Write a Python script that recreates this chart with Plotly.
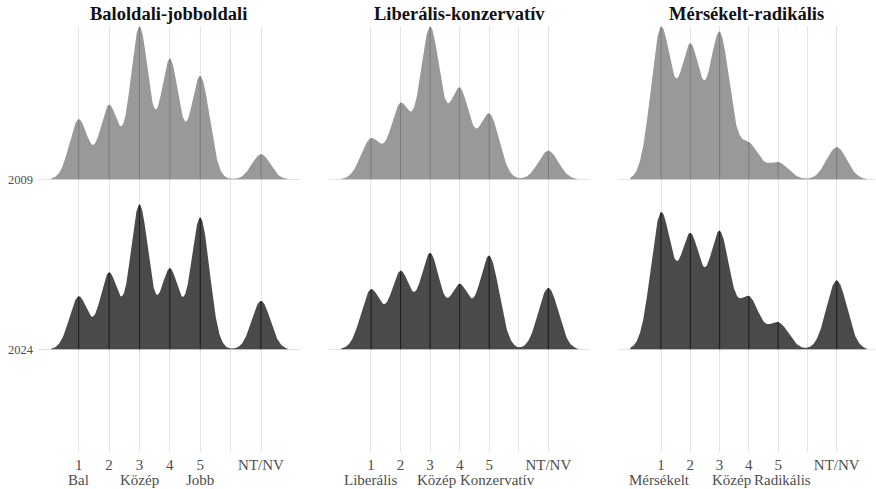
import numpy as np
import plotly.graph_objects as go

# ---- data (shares in %) ----
panel_titles = ["Baloldali-jobboldali", "Liberális-konzervatív", "Mérsékelt-radikális"]
answer_codes = [1, 2, 3, 4, 5, 7]           # NT/NV coded as 7
tick_vals = [1, 2, 3, 4, 5, 6, 7]
tick_text = ["1", "2", "3", "4", "5", "", "NT/NV"]
pole_positions = [1, 3, 5]
pole_labels_lr = ["Bal", "Közép", "Jobb"]
pole_labels_lc = ["Liberális", "Közép", "Konzervatív"]
pole_labels_mr = ["Mérsékelt", "Közép", "Radikális"]
years = ["2009", "2024"]

left_right_2009 = [11.2, 13.8, 28.5, 22.4, 19.3, 4.7]
left_right_2024 = [9.9, 14.3, 27.1, 15.0, 24.7, 9.1]
lib_cons_2009 = [9.0, 16.6, 33.7, 19.9, 14.5, 6.4]
lib_cons_2024 = [13.2, 17.1, 21.1, 14.1, 20.7, 13.7]
mod_rad_2009 = [29.5, 25.7, 28.4, 6.8, 3.3, 6.3]
mod_rad_2024 = [26.5, 22.0, 22.7, 10.0, 5.2, 13.5]

bandwidths = [0.305, 0.34, 0.35]

# ---- styling / layout ----
W, H = 876, 489
M_T, M_B = 26, 37
plot_h = H - M_T - M_B
panel_px = [(38, 300), (329, 590), (618, 875)]
x_ranges = [(-0.339, 8.283), (-0.421, 8.411), (-0.469, 8.308)]
y_range = (0.396, 2.902)
row_pos = {"2009": 2, "2024": 1}
ridge_scale = 0.898
fill_colors = {"2009": "#999999", "2024": "#4a4a4a"}
seg_colors = {"2009": "#7d7d7d", "2024": "#1e1e1e"}
pole_nudges_px = [(0, 0, 0), (0, 6, 8), (-2, 12, 4)]
FONT = "Liberation Serif"

panel_data = [
    (left_right_2009, left_right_2024, pole_labels_lr),
    (lib_cons_2009, lib_cons_2024, pole_labels_lc),
    (mod_rad_2009, mod_rad_2024, pole_labels_mr),
]


def kde(xs, codes, shares, bw):
    w = np.array(shares, dtype=float)
    w = w / w.sum()
    c = np.array(codes, dtype=float)
    z = (xs[:, None] - c[None, :]) / bw
    return (w[None, :] * np.exp(-0.5 * z ** 2)).sum(axis=1) / (bw * np.sqrt(2 * np.pi))


fig = go.Figure()
annotations = []
for i, (d09, d24, poles) in enumerate(panel_data):
    bw = bandwidths[i]
    xs = np.linspace(min(answer_codes) - 3 * bw, max(answer_codes) + 3 * bw, 700)
    dens = {"2009": kde(xs, answer_codes, d09, bw), "2024": kde(xs, answer_codes, d24, bw)}
    at_codes = {"2009": kde(np.array(answer_codes, float), answer_codes, d09, bw),
                "2024": kde(np.array(answer_codes, float), answer_codes, d24, bw)}
    mx = max(dens["2009"].max(), dens["2024"].max())
    k = ridge_scale / mx
    xa = "x" if i == 0 else f"x{i+1}"
    ya = "y" if i == 0 else f"y{i+1}"
    for yr in years:
        base = row_pos[yr]
        yy = base + dens[yr] * k
        px = np.concatenate([xs, xs[::-1]])
        py = np.concatenate([yy, np.full_like(xs, base)])
        fig.add_trace(go.Scatter(x=px, y=py, fill="toself", fillcolor=fill_colors[yr],
                                 mode="lines", line=dict(width=0, color=fill_colors[yr]),
                                 xaxis=xa, yaxis=ya, showlegend=False, hoverinfo="skip"))
        sx, sy = [], []
        for c, v in zip(answer_codes, at_codes[yr]):
            sx += [c, c, None]
            sy += [base, base + v * k, None]
        fig.add_trace(go.Scatter(x=sx, y=sy, mode="lines",
                                 line=dict(width=1.1, color=seg_colors[yr]),
                                 xaxis=xa, yaxis=ya, showlegend=False, hoverinfo="skip"))
    # axes
    dom = [panel_px[i][0] / W, panel_px[i][1] / W]
    fig.layout[f"xaxis{'' if i == 0 else i+1}"] = dict(
        domain=dom, range=list(x_ranges[i]), anchor=ya,
        tickmode="array", tickvals=tick_vals, ticktext=tick_text,
        showgrid=True, gridcolor="#e4e4e4", gridwidth=1, zeroline=False, showline=False,
        ticks="", tickfont=dict(family=FONT, size=15, color="#4d4d4d"),
        ticklabelstandoff=2, fixedrange=True)
    fig.layout[f"yaxis{'' if i == 0 else i+1}"] = dict(
        domain=[0, 1], range=list(y_range), anchor=xa,
        tickmode="array", tickvals=[row_pos[y] for y in years], ticktext=years,
        showticklabels=(i == 0), showgrid=True, gridcolor="#e4e4e4", gridwidth=1,
        zeroline=False, showline=False, ticks="", ticklabelstandoff=4,
        tickfont=dict(family=FONT, size=12.5, color="#4d4d4d"), fixedrange=True)
    # panel title
    annotations.append(dict(text=f"<b>{panel_titles[i]}</b>", xref="paper", yref="paper",
                            x=(dom[0] + dom[1]) / 2, y=1 + (M_T - 14) / plot_h,
                            xanchor="center", yanchor="middle", showarrow=False,
                            font=dict(family=FONT, size=18.5, color="#111111")))
    # pole labels (second line under ticks)
    for pos, lab, nud in zip(pole_positions, poles, pole_nudges_px[i]):
        annotations.append(dict(text=lab, xref=xa, yref="paper", x=pos, xshift=nud,
                                y=-(479.5 - (H - M_B)) / plot_h,
                                xanchor="center", yanchor="middle", showarrow=False,
                                font=dict(family=FONT, size=15, color="#4d4d4d")))

fig.update_layout(width=W, height=H, margin=dict(l=0, r=0, t=M_T, b=M_B, autoexpand=False),
                  paper_bgcolor="white", plot_bgcolor="white", annotations=annotations,
                  showlegend=False)
fig.write_html("out.html", config={"displayModeBar": False, "staticPlot": True},
               post_script="document.body.style.margin='0';document.body.style.overflow='hidden';")
